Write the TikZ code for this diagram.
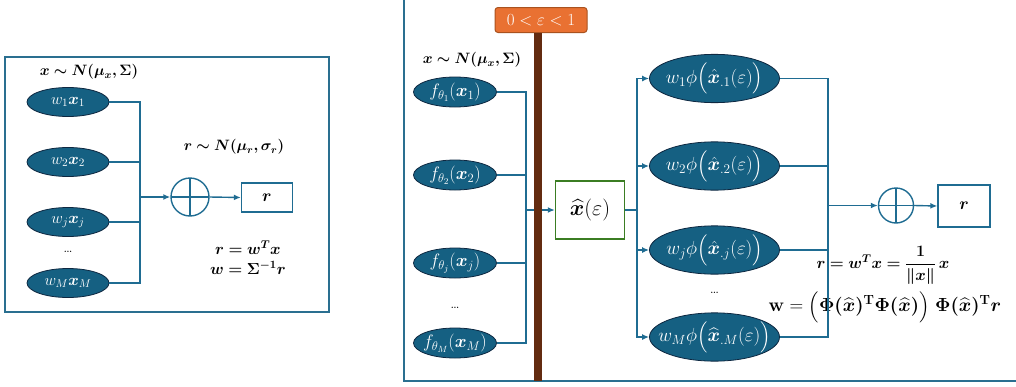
\RequirePackage{fix-cm}
\documentclass[tikz,border=0pt]{standalone}
\usepackage{amsmath,bm}
\usetikzlibrary{arrows.meta,shapes.geometric,calc}
\definecolor{ellfill}{HTML}{156082}
\definecolor{elldraw}{HTML}{0E2841}
\definecolor{linecol}{HTML}{1F6C92}
\definecolor{framecol}{HTML}{2A6F90}
\definecolor{orangecol}{HTML}{E97132}
\definecolor{orangedraw}{HTML}{A9521F}
\definecolor{browncol}{HTML}{632B10}
\definecolor{greencol}{HTML}{3B7D23}
\newcommand{\ectr}[1]{\makebox[0pt][c]{#1}}
\tikzset{
  ell/.style={ellipse, fill=ellfill, draw=elldraw, line width=0.8pt, text=white, inner sep=0pt,
    font=\fontsize{16}{18}\selectfont},
  ellS/.style={ell, minimum width=82pt, minimum height=29pt},
  ellF/.style={ell, minimum width=83pt, minimum height=30pt, font=\fontsize{18}{20}\selectfont},
  ellB/.style={ell, minimum width=130pt, minimum height=43pt, font=\fontsize{19}{21}\selectfont},
  conn/.style={draw=linecol, line width=1.4pt},
  arr/.style={conn, -{Latex[length=7pt,width=6pt]}},
  lbl/.style={font=\fontsize{15}{18}\selectfont, inner sep=0pt},
  eqn/.style={font=\fontsize{16}{19}\selectfont, inner sep=0pt},
  sumnode/.style={circle, draw=linecol, line width=1.4pt, inner sep=0pt,
    path picture={\draw[linecol, line width=1.4pt] (path picture bounding box.north) -- (path picture bounding box.south)
      (path picture bounding box.west) -- (path picture bounding box.east);}},
  rbox/.style={draw=linecol, line width=1.4pt, inner sep=0pt, font=\fontsize{17}{19}\selectfont},
  dotsnode/.style={font=\fontsize{16}{18}\selectfont, inner sep=0pt},
}
\begin{document}
\begin{tikzpicture}[x=1pt, y=-1pt]
\useasboundingbox (0,0) rectangle (1016,386);
% frames
\draw[framecol, line width=2pt] (5,57) rectangle (329,312);
\draw[framecol, line width=2pt] (404,0) -- (404,381) -- (1016,381);

% ---------- left panel ----------
\node[lbl] (tL) at (89,72) {$\bm{x\sim N(\mu_x,\Sigma)}$};
\node[ellS] (eL1) at (68,102) {\ectr{$w_1\bm{x}_1$}};
\node[ellS] (eL2) at (68,162) {\ectr{$w_2\bm{x}_2$}};
\node[ellS] (eL3) at (68,222) {\ectr{$w_j\bm{x}_j$}};
\node[dotsnode] (dL) at (68,252) {\dots};
\node[ellS] (eL4) at (68,283) {\ectr{$w_M\bm{x}_M$}};
\coordinate (busL) at (140,197);
\node[sumnode, minimum size=38pt] (sumL) at (190,197) {};
\node[rbox, minimum width=51pt, minimum height=29pt] (rL) at (267,197.5) {$\bm{r}$};
\node[lbl] (rdL) at (234,147) {$\bm{r\sim N(\mu_r,\sigma_r)}$};
\node[eqn] (eqL1) at (248,248) {$\bm{r=w^T x}$};
\node[eqn] (eqL2) at (248,268) {$\bm{w=\Sigma^{-1}r}$};

\draw[conn] (eL1.east) -| (busL);
\draw[conn] (eL4.east) -| (busL);
\draw[conn] (eL2.east) -- (eL2.east -| busL);
\draw[conn] (eL3.east) -- (eL3.east -| busL);
\draw[arr] (busL) -- (sumL.west);
\draw[arr] (sumL.east) -- (rL.west);

% ---------- right panel ----------
\node[lbl] (tR) at (472,60) {$\bm{x\sim N(\mu_x,\Sigma)}$};
\node[ellF] (fR1) at (455,92) {\ectr{$f_{\theta_1}(\bm{x}_1)$}};
\node[ellF] (fR2) at (455,175) {\ectr{$f_{\theta_2}(\bm{x}_2)$}};
\node[ellF] (fR3) at (455,263) {\ectr{$f_{\theta_j}(\bm{x}_j)$}};
\node[dotsnode] (dR) at (455,308) {\dots};
\node[ellF] (fR4) at (455,343) {\ectr{$f_{\theta_M}(\bm{x}_M)$}};
\coordinate (busR1) at (526,210);
\node[draw=greencol, line width=1.4pt, minimum width=69pt, minimum height=58pt, inner sep=0pt,
  font=\fontsize{22}{24}\selectfont] (xh) at (590,210) {$\widehat{\bm{x}}(\varepsilon)$};
\coordinate (busR2) at (637,210);
\node[ellB] (wR1) at (714.5,78.5) {\ectr{$w_1\phi\Bigl(\hat{\bm{x}}_{.1}(\varepsilon)\Bigr)$}};
\node[ellB] (wR2) at (714.5,166) {\ectr{$w_2\phi\Bigl(\hat{\bm{x}}_{.2}(\varepsilon)\Bigr)$}};
\node[ellB] (wR3) at (714.5,250) {\ectr{$w_j\phi\Bigl(\hat{\bm{x}}_{.j}(\varepsilon)\Bigr)$}};
\node[dotsnode] (dR2) at (714.5,293) {\dots};
\node[ellB] (wR4) at (714.5,337) {\ectr{$w_M\phi\Bigl(\widehat{\bm{x}}_{.M}(\varepsilon)\Bigr)$}};
\coordinate (busR3) at (828,205.5);
\node[sumnode, minimum size=35pt] (sumR) at (896,205.5) {};
\node[rbox, minimum width=52pt, minimum height=42pt] (rR) at (964,206) {$\bm{r}$};
\node[eqn] (eqR1) at (883,265) {$\bm{r=w^T x=\dfrac{1}{\|x\|}\,x}$};
\node[eqn, font=\fontsize{19}{21}\selectfont] (eqR2) at (885,307) {$\mathbf{w}=\bm{\Bigl(\mathbf{\Phi}(\widehat{x})^{\mathbf{T}}\mathbf{\Phi}(\widehat{x})\Bigr)\ \mathbf{\Phi}(\widehat{x})^{\mathbf{T}}r}$};

\draw[conn] (fR1.east) -| (busR1);
\draw[conn] (fR4.east) -| (busR1);
\draw[conn] (fR2.east) -- (fR2.east -| busR1);
\draw[conn] (fR3.east) -- (fR3.east -| busR1);
\draw[arr] (busR1) -- (xh.west);
\draw[conn] (xh.east) -- (busR2);
\draw[arr] (busR2) |- (wR1.west);
\draw[arr] (busR2) |- (wR2.west);
\draw[arr] (busR2) |- (wR3.west);
\draw[arr] (busR2) |- (wR4.west);
\draw[conn] (wR1.east) -| (busR3);
\draw[conn] (wR4.east) -| (busR3);
\draw[conn] (wR2.east) -- (wR2.east -| busR3);
\draw[conn] (wR3.east) -- (wR3.east -| busR3);
\draw[arr] (busR3) -- (sumR.west);
\draw[arr] (sumR.east) -- (rR.west);

% epsilon bar
\node[fill=orangecol, draw=orangedraw, line width=1pt, rounded corners=3pt, text=white,
  minimum width=92pt, minimum height=25pt, inner sep=0pt, font=\fontsize{17}{19}\selectfont] (eps) at (541,20) {$0<\varepsilon<1$};
\coordinate (barBot) at (538,381);
\draw[browncol, line width=8pt] (eps.south -| barBot) -- (barBot);
\end{tikzpicture}
\end{document}
